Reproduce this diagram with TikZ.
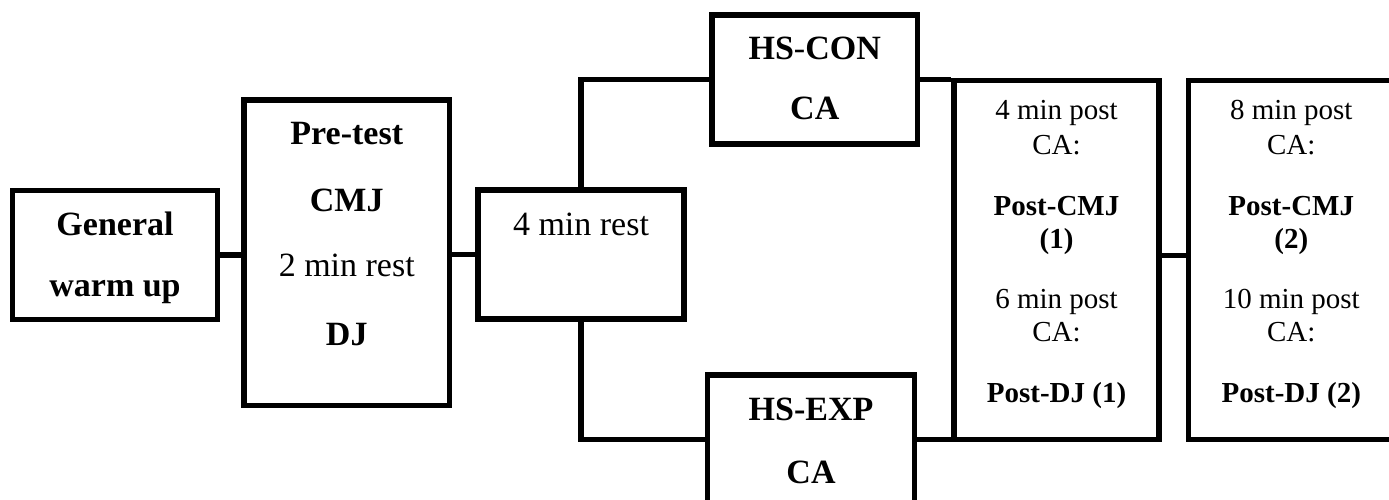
\documentclass[tikz,border=0pt]{standalone}
\usepackage{fontspec}
\setmainfont{Liberation Serif}
\begin{document}
\begin{tikzpicture}[x=1pt,y=1pt,
  box/.style={draw, line width=5.5pt, inner sep=0pt, minimum width=205pt},
  conn/.style={draw, line width=5.5pt},
  big/.style={anchor=base, inner sep=0pt, font=\fontsize{34}{40}\selectfont},
  bigb/.style={big, font=\fontsize{34}{40}\selectfont\bfseries},
  sml/.style={anchor=base, inner sep=0pt, font=\fontsize{29}{34}\selectfont},
  smlb/.style={sml, font=\fontsize{29}{34}\selectfont\bfseries}]
\useasboundingbox (0,0) rectangle (1389,499);
\clip (0,0) rectangle (1389,499);
% boxes
\node[box, minimum height=129pt] (gw) at (115,244) {};
\node[box, minimum width=205.5pt, minimum height=305.5pt] (pt) at (346.75,246.25) {};
\node[box, minimum width=206pt, minimum height=129pt] (rest) at (581,244.5) {};
\node[box, minimum width=205.5pt, minimum height=129pt] (con) at (814.75,419.5) {};
\node[box, minimum width=207pt, minimum height=129pt] (exp) at (811,59.5) {};
\node[box, minimum height=359pt] (b4) at (1056.5,239) {};
\node[box, minimum width=205.5pt, minimum height=359pt] (b5) at (1291.25,239) {};
% texts
\node[bigb] (gwa) at (115,264) {General};
\node[bigb] (gwb) at (115,202.3) {warm up};
\node[bigb] (pta) at (346.75,354) {Pre-test};
\node[bigb] (ptb) at (346.75,287.3) {CMJ};
\node[big]  (ptc) at (346.75,222.3) {2 min rest};
\node[bigb] (ptd) at (346.75,154) {DJ};
\node[big]  (ra) at (581,264) {4 min rest};
\node[bigb] (cona) at (814.75,439.7) {HS{\mdseries -}CON};
\node[bigb] (conb) at (814.75,379.7) {CA};
\node[bigb] (expa) at (811,78.3) {HS-EXP};
\node[bigb] (expb) at (811,15.7) {CA};
\node[sml]  (b4a) at (1056.5,379) {4 min post};
\node[sml]  (b4b) at (1056.5,344.7) {CA:};
\node[smlb] (b4c) at (1056.5,284) {Post-CMJ};
\node[smlb] (b4d) at (1056.5,250.7) {(1)};
\node[sml]  (b4e) at (1056.5,190.7) {6 min post};
\node[sml]  (b4f) at (1056.5,157.3) {CA:};
\node[smlb] (b4g) at (1056.5,96.7) {Post-DJ (1)};
\node[sml]  (b5a) at (1291.25,379) {8 min post};
\node[sml]  (b5b) at (1291.25,344.7) {CA:};
\node[smlb] (b5c) at (1291.25,284) {Post-CMJ};
\node[smlb] (b5d) at (1291.25,250.7) {(2)};
\node[sml]  (b5e) at (1291.25,190.7) {10 min post};
\node[sml]  (b5f) at (1291.25,157.3) {CA:};
\node[smlb] (b5g) at (1291.25,96.7) {Post-DJ (2)};
% connectors
\draw[conn] (gw.east) -- (gw.east -| pt.west);
\draw[conn] (rest.west -| pt.east) -- (rest.west);
\draw[conn] (rest.north) |- (con.west);
\draw[conn] (rest.south) |- (exp.west);
\draw[conn] (con.east) -- (con.east -| b4.west);
\draw[conn] (exp.east) -- (exp.east -| b4.west);
\draw[conn] ([yshift=4.5pt]b4.east) -- ([yshift=4.5pt]b5.west);
\end{tikzpicture}
\end{document}
